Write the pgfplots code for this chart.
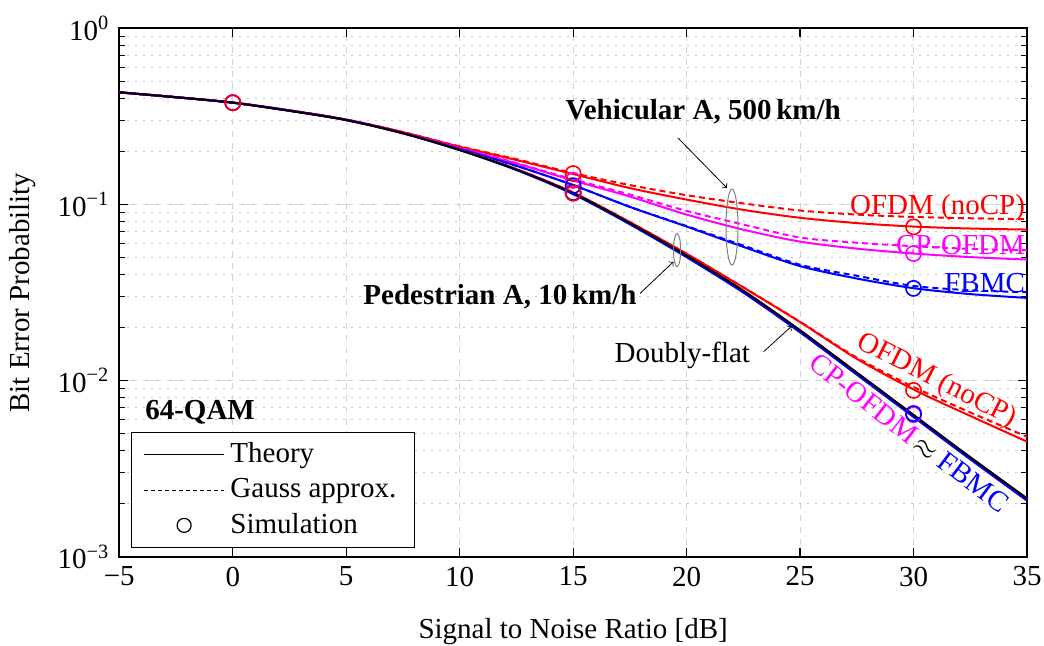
\documentclass[border=0pt]{standalone}
\usepackage{fontspec}
\setmainfont{Liberation Serif}
\usepackage{pgfplots}
\pgfplotsset{compat=1.18}
\definecolor{mred}{rgb}{1,0,0}
\definecolor{mmag}{rgb}{1,0,1}
\definecolor{mblue}{rgb}{0,0,1}
\begin{document}
\fontsize{14.5}{17}\selectfont
\begin{tikzpicture}[font=\fontsize{14.5}{17}\selectfont]
\begin{axis}[
  scale only axis, width=453.9pt, height=264.1pt,
  xmin=-5, xmax=35, ymode=log, ymin=1e-3, ymax=1,
  xtick={-5,0,5,10,15,20,25,30,35},
  xticklabels={−5,0,5,10,15,20,25,30,35},
  ytick={0.001,0.01,0.1,1},
  yticklabels={10\textsuperscript{−3},10\textsuperscript{−2},10\textsuperscript{−1},10\textsuperscript{0}},
  grid=both,
  major grid style={dash pattern=on 3pt off 3pt, gray!35, line width=0.5pt},
  minor grid style={dash pattern=on 0.7pt off 3.3pt, gray!45, line width=0.6pt},
  axis line style={line width=1pt},
  tick style={black, line width=0.6pt},
  xlabel={Signal to Noise Ratio [dB]},
  ylabel={Bit Error Probability},
  xlabel style={at={(axis description cs:0.5,-0.142)}, anchor=center},
  ylabel style={at={(axis description cs:-0.107,0.5)}, anchor=center},
  legend image code/.code={\draw[mark repeat=2,mark phase=2,#1] plot coordinates {(0cm,0cm) (0.7cm,0cm) (1.4cm,0cm)};},
  legend style={at={(rel axis cs:0.013,0.236)}, anchor=north west, draw=black, line width=0.7pt, row sep=3.6pt, inner xsep=6pt, inner ysep=4pt,
    nodes={inner xsep=3pt, inner ysep=1pt}},
  legend cell align=left,
  every axis plot/.append style={line width=1pt},
]
\addlegendimage{black, solid, line width=0.5pt}
\addlegendentry{Theory}
\addlegendimage{black, dash pattern=on 2pt off 1.5pt, line width=0.5pt}
\addlegendentry{Gauss approx.}
\addlegendimage{black, only marks, mark=o, mark size=3.5pt, line width=0.6pt}
\addlegendentry{Simulation}

% ---------- Vehicular A ----------
\addplot[forget plot, mred, smooth] coordinates {
(-5,0.434) (-2.5,0.407) (0,0.380) (2.5,0.343) (5,0.304) (7.5,0.258) (10,0.213) (12.5,0.179) (15,0.149) (17.5,0.124) (20,0.1067) (22.5,0.0933) (25,0.0841) (27.5,0.0785) (30,0.0750) (32.5,0.0731) (35,0.0721)};
\addplot[forget plot, mred, smooth, dash pattern=on 3pt off 2pt] coordinates {
(-5,0.434) (-2.5,0.407) (0,0.380) (2.5,0.343) (5,0.304) (7.5,0.258) (10,0.214) (12.5,0.181) (15,0.151) (17.5,0.129) (20,0.113) (22.5,0.1015) (25,0.0925) (27.5,0.0877) (30,0.0850) (32.5,0.0836) (35,0.0825)};
\addplot[forget plot, mmag, smooth] coordinates {
(-5,0.434) (-2.5,0.407) (0,0.379) (2.5,0.342) (5,0.303) (7.5,0.256) (10,0.209) (12.5,0.171) (15,0.137) (17.5,0.111) (20,0.0877) (22.5,0.0720) (25,0.0616) (27.5,0.0562) (30,0.0527) (32.5,0.0503) (35,0.0487)};
\addplot[forget plot, mmag, smooth, dash pattern=on 3pt off 2pt] coordinates {
(-5,0.434) (-2.5,0.407) (0,0.379) (2.5,0.342) (5,0.303) (7.5,0.256) (10,0.210) (12.5,0.172) (15,0.139) (17.5,0.114) (20,0.0920) (22.5,0.0770) (25,0.0650) (27.5,0.0607) (30,0.0580) (32.5,0.0560) (35,0.0550)};
\addplot[forget plot, mblue, smooth] coordinates {
(-5,0.434) (-2.5,0.407) (0,0.379) (2.5,0.342) (5,0.303) (7.5,0.255) (10,0.207) (12.5,0.166) (15,0.129) (17.5,0.097) (20,0.0750) (22.5,0.0575) (25,0.0447) (27.5,0.0380) (30,0.0335) (32.5,0.0310) (35,0.0295)};
\addplot[forget plot, mblue, smooth, dash pattern=on 3pt off 2pt] coordinates {
(-5,0.434) (-2.5,0.407) (0,0.379) (2.5,0.342) (5,0.303) (7.5,0.255) (10,0.207) (12.5,0.166) (15,0.129) (17.5,0.097) (20,0.0755) (22.5,0.0585) (25,0.0455) (27.5,0.0394) (30,0.0345) (32.5,0.0326) (35,0.0318)};

% ---------- Pedestrian A ----------
\addplot[forget plot, mred, smooth] coordinates {
(-5,0.434) (-2.5,0.407) (0,0.379) (2.5,0.341) (5,0.302) (7.5,0.255) (10,0.205) (12.5,0.159) (15,0.117) (17.5,0.0795) (20,0.0525) (22.5,0.0338) (25,0.0215) (27.5,0.0133) (30,0.0089) (32.5,0.0063) (35,0.0045)};
\addplot[forget plot, mred, smooth, dash pattern=on 3pt off 2pt] coordinates {
(-5,0.434) (-2.5,0.407) (0,0.379) (2.5,0.341) (5,0.302) (7.5,0.255) (10,0.205) (12.5,0.159) (15,0.117) (17.5,0.0795) (20,0.0525) (22.5,0.0339) (25,0.0216) (27.5,0.0135) (30,0.0092) (32.5,0.0066) (35,0.0048)};
\addplot[forget plot, mmag, smooth] coordinates {
(-5,0.434) (-2.5,0.407) (0,0.379) (2.5,0.341) (5,0.302) (7.5,0.254) (10,0.204) (12.5,0.158) (15,0.116) (17.5,0.0785) (20,0.0513) (22.5,0.0324) (25,0.0193) (27.5,0.0111) (30,0.00638) (32.5,0.00367) (35,0.00214)};
\addplot[forget plot, mblue, smooth] coordinates {
(-5,0.434) (-2.5,0.407) (0,0.379) (2.5,0.341) (5,0.302) (7.5,0.254) (10,0.204) (12.5,0.157) (15,0.1145) (17.5,0.0772) (20,0.0502) (22.5,0.0316) (25,0.0188) (27.5,0.0108) (30,0.00621) (32.5,0.00357) (35,0.00208)};
\addplot[forget plot, black, smooth] coordinates {
(-5,0.434) (-2.5,0.407) (0,0.379) (2.5,0.341) (5,0.302) (7.5,0.254) (10,0.204) (12.5,0.158) (15,0.116) (17.5,0.0785) (20,0.0513) (22.5,0.0324) (25,0.0193) (27.5,0.0111) (30,0.00638) (32.5,0.00367) (35,0.00214)};

% ---------- Simulation ----------
\addplot[forget plot, only marks, mark=o, mark size=3.8pt, mmag, line width=0.8pt] coordinates {(0,0.379) (15,0.137) (15,0.116) (30,0.0527) (30,0.0064)};
\addplot[forget plot, only marks, mark=o, mark size=3.8pt, mblue, line width=0.8pt] coordinates {(0,0.379) (15,0.128) (15,0.117) (30,0.0334) (30,0.0065)};
\addplot[forget plot, only marks, mark=o, mark size=3.8pt, mred, line width=0.8pt] coordinates {(0,0.379) (15,0.150) (15,0.116) (30,0.0747) (30,0.0088)};

% ---------- Annotations ----------
\node[font=\fontsize{14.5}{17}\selectfont\bfseries] at (axis cs:20.73,0.3355) {Vehicular A, 500\,km/h};
\draw[black, line width=0.4pt, ->] (axis cs:19.62,0.2387) -- (axis cs:21.78,0.1241);
\draw[gray, line width=0.5pt] (axis cs:22,0.0745) ellipse [x radius=3pt, y radius=19pt];

\node[font=\fontsize{14.5}{17}\selectfont\bfseries, anchor=east, inner sep=1pt] at (axis cs:17.9,0.0298) {Pedestrian A, 10\,km/h};
\draw[black, line width=0.4pt, ->] (axis cs:17.95,0.0313) -- (axis cs:19.42,0.0473);
\draw[gray, line width=0.5pt] (axis cs:19.58,0.0551) ellipse [x radius=1.8pt, y radius=8.3pt];

\node[anchor=east, inner sep=1pt] at (axis cs:22.9,0.01396) {Doubly-flat};
\draw[black, line width=0.4pt, ->] (axis cs:23.39,0.01458) -- (axis cs:24.63,0.0204);

\node[font=\fontsize{14.5}{17}\selectfont\bfseries, anchor=west, inner sep=0pt] at (axis cs:-3.87,0.00662) {64-QAM};

\node[mred, anchor=east, inner sep=0.5pt] at (axis cs:34.97,0.0968) {OFDM (noCP)};
\node[mmag, anchor=east, inner sep=0.5pt] at (axis cs:34.97,0.0589) {CP-OFDM};
\node[mblue, anchor=east, inner sep=0.5pt] at (axis cs:34.97,0.0358) {FBMC};

\node[mred, rotate=-27] at (axis cs:31.02,0.0100) {OFDM (noCP)};
\node[mmag, rotate=-38] at (axis cs:27.8,0.00792) {CP-OFDM};
\node[black, rotate=-38] at (axis cs:30.5,0.00403) {$\approx$};
\node[mblue, rotate=-37] at (axis cs:32.64,0.00266) {FBMC};
\end{axis}
\pgfresetboundingbox
\path[use as bounding box] ([xshift=-59.65pt,yshift=-44.65pt]current axis.south west) rectangle ([xshift=8.5pt,yshift=14.25pt]current axis.north east);
\end{tikzpicture}
\end{document}
